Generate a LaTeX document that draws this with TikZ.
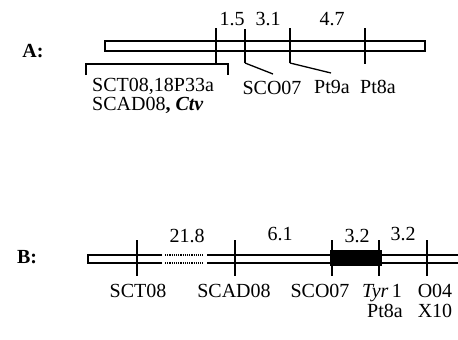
\documentclass[tikz,border=0pt]{standalone}
\usepackage{fontspec}
\setmainfont{Liberation Serif}
\begin{document}
\def\lwidth{1.7}
\def\cwidth{1.9}
\def\ttop{-18}
\def\tbot{18}
\begin{tikzpicture}[x=1pt,y=-1pt,font=\fontsize{20}{17}\selectfont,
	tick/.style={line width=\lwidth pt},
	chrom/.style={line width=1.4pt},
	chromb/.style={line width=\cwidth pt},
	gapline/.style={chromb,dash pattern=on 1.2pt off 1pt},
	lead/.style={line width=1.3pt},
	lbl/.style={inner sep=0pt,anchor=base},
	title/.style={lbl,font=\fontsize{20}{17}\selectfont\bfseries}]
	\useasboundingbox (0,0) rectangle (458,340);
	\begin{scope}[shift={(0,46)}]
		\node[title] (ta) at (33,11) {A:};
		\draw[chrom] (105,-5) rectangle (425,5);
		\draw[tick] (216,\ttop) -- (216,\tbot);
		\draw[tick] (365,\ttop) -- (365,\tbot);
		\coordinate (k2) at (245,17);
		\coordinate (k3) at (290,17);
		\coordinate (l2) at (273,28);
		\coordinate (l3) at (331,27);
		\draw[tick] (245,-17) -- (k2);
		\draw[tick] (290,\ttop) -- (k3);
		\draw[lead] (k2) -- (l2);
		\draw[lead] (k3) -- (l3);
		\draw[tick] (86,29) -- (86,\tbot) -- (228,\tbot) -- (228,29);
		\node[lbl] (a15) at (232,-21) {1.5};
		\node[lbl] (a31) at (268,-21) {3.1};
		\node[lbl] (a47) at (332,-21) {4.7};
		\node[lbl,anchor=base west] (agrp1) at (92,45) {SCT08,18P33a};
		\node[lbl,anchor=base west] (agrp2) at (92,64) {SCAD08\textbf{, \textit{Ctv}}};
		\node[lbl] (asco) at (272,48) {SCO07};
		\node[lbl] (apt9) at (332,47) {Pt9a};
		\node[lbl] (apt8) at (378,47) {Pt8a};
	\end{scope}
	\begin{scope}[shift={(0,259)}]
		\node[title] (tb) at (27,4) {B:};
		\draw[chromb] (162,-4) -- (88,-4) -- (88,4) -- (162,4);
		\draw[gapline] (165,-4) -- (203,-4);
		\draw[gapline] (165,4) -- (203,4);
		\draw[chromb] (207,-4) -- (460,-4);
		\draw[chromb] (207,4) -- (460,4);
		\fill (330,-9) rectangle (382,7);
		\foreach \x in {137,235,332,379,427}
			\draw[tick] (\x,-19) -- (\x,17);
		\node[lbl] (b218) at (187,-17) {21.8};
		\node[lbl] (b61) at (280,-19) {6.1};
		\node[lbl] (b32a) at (357,-17) {3.2};
		\node[lbl] (b32b) at (403,-19) {3.2};
		\node[lbl] (bsct) at (138,38) {SCT08};
		\node[lbl] (bscad) at (234,38) {SCAD08};
		\node[lbl] (bsco) at (320,38) {SCO07};
		\node[lbl] (btyr) at (382,38) {\textit{Tyr}\,1};
		\node[lbl] (bpt8) at (385,58) {Pt8a};
		\node[lbl] (bo04) at (435,38) {O04};
		\node[lbl] (bx10) at (435,58) {X10};
	\end{scope}
\end{tikzpicture}
\end{document}
